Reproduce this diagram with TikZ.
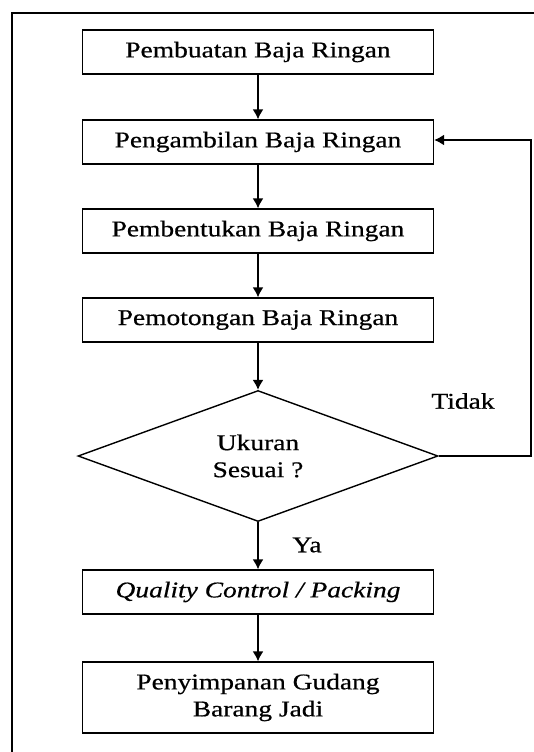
\documentclass[tikz,border=0pt]{standalone}
\usepackage{fontspec}
\setmainfont{Liberation Serif}[FakeStretch=1.22,FakeBold=0.6]
\usetikzlibrary{shapes.geometric,arrows.meta}
\begin{document}
\begin{tikzpicture}[x=1pt,y=-1pt,
  line width=1.4pt,
  every node/.style={font=\fontsize{22.5}{27}\selectfont},
  procbox/.style={draw, minimum width=351pt, minimum height=44pt, inner sep=0pt, align=center},
  decbox/.style={draw, diamond, minimum width=360pt, minimum height=131pt, inner sep=0pt, align=center, shape aspect=2.75},
  flow/.style={-{Latex[length=10pt,width=11pt]}},
  lbl/.style={inner sep=0pt}]
\useasboundingbox (0,0) rectangle (534,752);
\begin{scope}
\clip (0,0) rectangle (534,752);
\draw (12,770) -- (12,13) -- (550,13);
\end{scope}
\node[procbox] (b1) at (258,52) {Pembuatan Baja Ringan};
\node[procbox] (b2) at (258,142) {Pengambilan Baja Ringan};
\node[procbox] (b3) at (258,231) {Pembentukan Baja Ringan};
\node[procbox] (b4) at (258,320) {Pemotongan Baja Ringan};
\node[decbox] (d) at (258,456) {Ukuran\\Sesuai ?};
\node[procbox] (b5) at (258,592) {\itshape Quality Control / Packing};
\node[procbox, minimum height=71pt] (b6) at (258,697.5) {Penyimpanan Gudang\\Barang Jadi};
\node[lbl] (tidak) at (463,401) {Tidak};
\node[lbl] (ya) at (307,545) {Ya};
\coordinate (fbr) at (531,456);
\coordinate (fbt) at (531,140);
\draw[flow] (b1) -- (b2);
\draw[flow] (b2) -- (b3);
\draw[flow] (b3) -- (b4);
\draw[flow] (b4) -- (d);
\draw[flow] (d) -- (b5);
\draw[flow] (b5) -- (b6);
\draw[flow] (d.east) -- (fbr) -- (fbt) -- (fbt -| b2.east);
\end{tikzpicture}
\end{document}
